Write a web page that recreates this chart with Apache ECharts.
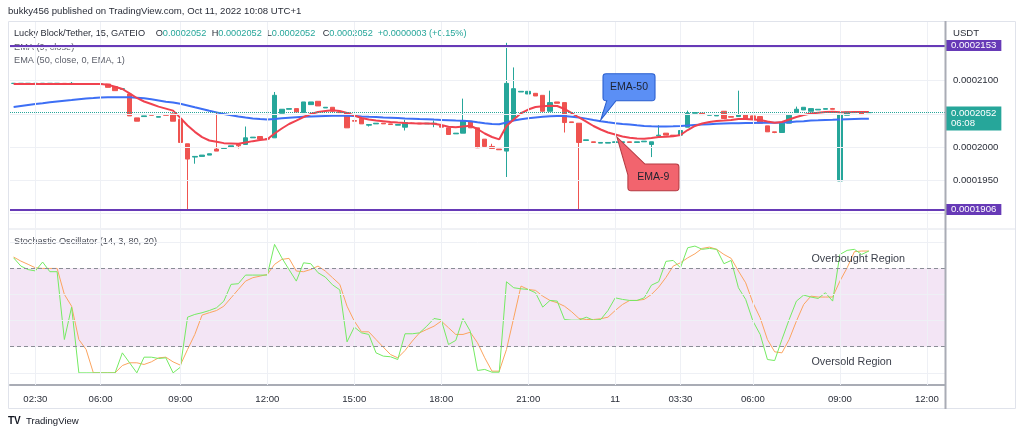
<!DOCTYPE html>
<html><head><meta charset="utf-8">
<script src="https://cdn.jsdelivr.net/npm/echarts@6/dist/echarts.min.js"></script>
<style>html,body{margin:0;padding:0;background:#fff}#c{width:1024px;height:437px}</style>
</head><body><div id="c"></div>
<script>
// prices are in units of 1e-7 USDT
const PRICE_UNIT = 1e-7;
// [open, close, low, high]
const candles = [
[2096,2096,2096,2096],[2096,2096,2096,2096],[2096,2096,2096,2096],[2096,2096,2096,2096],[2096,2096,2096,2096],
[2096,2096,2096,2096],[2096,2096,2096,2096],[2096,2095,2095,2096],[2095,2096,2095,2098],[2095,2095,2095,2095],
[2095,2095,2095,2095],[2095,2095,2095,2095],[2095,2095,2095,2095],[2095,2090,2090,2095],[2091,2085,2085,2091],
[2087,2088,2087,2088],[2080,2047,2047,2080],[2044,2039,2039,2044],[2046,2047,2046,2047],[2049,2048,2048,2049],
[2045,2046,2045,2046],[2049,2048,2048,2049],[2050,2039,2039,2050],[2042,2007,2007,2042],[2005,1982,1906,2005],
[1985,1986,1975,1986],[1986,1988,1986,1988],[1988,1990,1988,1990],[1997,1994,1994,2053],[1998,1999,1998,1999],
[2000,2002,2000,2002],[2004,2002,1998,2004],[2004,2014,2004,2031],[2014,2015,2014,2015],[2016,2012,2012,2016],
[2013,2012,2012,2013],[2014,2078,2014,2083],[2051,2057,2051,2057],[2057,2058,2057,2058],[2058,2053,2053,2058],
[2052,2068,2052,2068],[2064,2068,2064,2068],[2069,2062,2062,2069],[2059,2060,2059,2060],[2060,2054,2054,2060],
[2053,2052,2052,2053],[2052,2029,2029,2052],[2040,2039,2039,2040],[2043,2035,2035,2043],[2033,2034,2031,2034],
[2035,2036,2035,2036],[2036,2035,2035,2036],[2035,2034,2034,2035],[2033,2034,2033,2034],[2030,2037,2025,2041],
[2036,2036,2036,2036],[2036,2035,2035,2036],[2035,2036,2035,2036],[2035,2036,2030,2040],[2032,2030,2014,2032],
[2029,2019,2019,2029],[2020,2021,2020,2021],[2021,2039,2021,2073],[2039,2029,2029,2039],[2029,1999,1999,2029],
[2012,2001,2001,2012],[2001,1998,1998,2005],[1997,1996,1996,1997],[1994,2096,1955,2157],[2041,2088,2041,2120],
[2083,2084,2083,2084],[2080,2084,2080,2084],[2081,2077,2077,2081],[2078,2054,2054,2078],[2054,2067,2054,2085],
[2068,2066,2066,2068],[2067,2037,2022,2067],[2038,2037,2037,2038],[2036,2007,1905,2036],[2010,2011,2010,2011],
[2008,2007,2007,2008],[2006,2007,2006,2007],[2006,2007,2006,2007],[2007,2008,2007,2008],[2007,2008,2007,2008],
[2008,2007,2007,2008],[2007,2008,2007,2008],[2008,2009,2008,2009],[2004,2008,1985,2008],[2017,2018,2017,2033],
[2021,2018,2018,2021],[2018,2017,2017,2018],[2018,2025,2018,2025],[2030,2051,2030,2055],[2051,2052,2051,2052],
[2051,2049,2049,2051],[2048,2049,2048,2049],[2047,2048,2047,2048],[2054,2043,2043,2054],[2046,2045,2045,2046],
[2046,2049,2046,2085],[2049,2042,2042,2049],[2047,2042,2042,2047],[2046,2036,2036,2046],[2032,2023,2023,2032],
[2023,2022,2021,2023],[2022,2036,2022,2036],[2036,2048,2036,2048],[2052,2057,2052,2061],[2056,2060,2056,2060],
[2054,2058,2054,2058],[2056,2057,2056,2057],[2057,2058,2057,2058],[2058,2057,2057,2059],[1949,2049,1949,2049],
[2048,2053,2048,2053],[2052,2053,2052,2053],[2053,2049,2049,2053],[2052,2052,2052,2052]
];
const ema9 = [
2095,2095,2095,2095,2095,2095,2095,2095,2095,2095,2095,2095,2095,2094,2091,2087.5,2081,2074,2068.7,2065,
2061,2058,2055,2044,2032.5,2023,2015,2010,2008,2006,2005.5,2005,2007,2009,2010.7,2011.7,2020.5,2028,2034.8,2040,
2045.3,2049.8,2053,2054.4,2055.4,2054.4,2051.3,2047.6,2043.8,2041.6,2040,2038.9,2037.8,2037,2036.3,2035.8,2035.5,2035.4,2035.2,2033.3,
2030.7,2029.8,2031,2032.2,2027.3,2020.5,2015.2,2011.7,2031.8,2041.6,2051,2056.6,2060.4,2061.6,2062.2,2061.9,2057.4,2051.3,2044.6,2038.5,
2031.8,2026.5,2022,2019,2016,2014.2,2013,2012.6,2013.7,2015.2,2015.7,2016.3,2018.2,2025.7,2031.8,2035.5,2037.8,2039.3,2040,2040.8,
2042.3,2042.3,2041.6,2040.8,2038.5,2036.7,2037.8,2041.6,2045.3,2048.3,2050.6,2051.8,2052.8,2053.3,2052.4,2052.4,2052.9,2052.9,2052.9
];
const ema50 = [
2060.4,2061.9,2063.4,2064.9,2066,2067.5,2068.7,2069.9,2070.9,2072.1,2073.2,2073.9,2074.7,2075,2075.1,2075.1,2075,2074.5,2073.5,2072,
2070.2,2068.2,2067.2,2065.2,2062.6,2059.9,2057.4,2054.7,2052.3,2049.8,2047.9,2046.1,2044.6,2043.2,2042.2,2041.6,2042.3,2043.4,2044.3,2045,
2045.6,2046.1,2046.5,2046.8,2047.1,2047.3,2047.1,2046.7,2046.1,2045.6,2045.2,2044.7,2044.3,2043.8,2043.2,2042.8,2042.3,2041.9,2041.4,2041,
2040.5,2040,2039.6,2038.8,2037.3,2036,2034.8,2034.3,2037,2040,2041.9,2043.4,2044.7,2045.6,2046.4,2046.8,2046.7,2045.9,2044.6,2042.9,
2040.8,2039,2037.5,2036.1,2034.9,2033.9,2032.8,2031.9,2031.3,2030.9,2030.9,2031.3,2031.8,2032.5,2033.3,2033.9,2034.5,2035.1,2035.7,2036,
2036.1,2036.3,2036.4,2036.6,2036.6,2036.7,2037,2037.6,2038.4,2039.1,2039.9,2040.3,2040.8,2041.1,2041.6,2042,2042.3,2042.6,2042.8
];
const stochK = [
88,81.7,79,78,84.8,77.4,77.4,25.5,50.3,0,0,0,0,0,0,15.3,7.7,0,12,12,
11,11.5,0,4.3,42.6,44.7,46,47.7,49.8,54.9,67.7,68.2,74.8,74.8,74.8,74.8,98.3,88,79,70.2,
84.2,83.5,76.6,73.3,67.3,63.5,23.7,35,30.6,29.4,15.3,12.8,12.3,10.2,29.9,29.9,30.6,35.7,41.6,40.6,
21.7,24.8,41.6,31.9,1.8,2.6,0.5,0.5,69.7,65.1,64.3,63.8,61.3,50.3,55.4,54.9,40.8,40.3,40.3,42.6,
40.3,40.8,47.7,57.4,56.2,55.4,55.4,57.4,67.1,69.7,85.3,86,80.4,95.7,97,94.5,95.2,94.5,83.5,86,
65.1,56.2,39.6,29.4,10.2,9.4,25.5,40.8,54.9,59.5,58,56.9,61.3,54.9,90.6,93.7,94.5,90.6,93.2
];
const stochD = [
88.6,85.5,83,80.4,79.9,79.9,79.9,60,51,25.5,17.9,0,0,0,0,5.6,7.7,7.7,6.4,8.4,
11.5,12,8.4,5.9,17.9,29.4,44.2,46,47.7,51,57.4,63.8,70.2,72.8,74,75.3,83,86.8,87.6,77.9,
77.4,79.1,81.7,77.9,72.8,67.7,51,39.6,31.4,31.4,25.5,19.7,14,11.5,17.1,24.3,30.6,33.2,35.7,39.6,
34.5,29.4,29.4,31.1,23,11.5,1.3,1.3,17.9,42.1,66.4,63.8,63.1,58.7,55.4,53.6,51,46.7,41.6,40.8,
40.8,41.4,42.6,47.7,52.3,55.4,55.4,56.2,60,65.6,73,81.7,84.2,88,91.1,95.2,96.2,94.5,90.6,87.6,
77.9,68.9,53.6,42.1,25.5,16.1,15.3,25.5,39.6,52.3,58.7,58,58,58,70.2,80.4,92.7,93.2,93.2
];
const futureSlots = 10;
// bar index at which each time label falls (bars missing in low-volume periods)
const timeTickIdx  = [3, 12, 23, 35, 47, 59, 71, 83, 92, 102, 114, 126];
const timeTickText = ['02:30','06:00','09:00','12:00','15:00','18:00','21:00','11','03:30','06:00','09:00','12:00'];
const priceGridLevels = [1900, 1950, 2000, 2050, 2100, 2150];
const priceLabelLevels = [1950, 2000, 2100];
const resistanceLevel = 2153, supportLevel = 1906, lastPrice = 2052;
const stochGridLevels = [0, 40, 60, 100];
const stochBandLevels = [20, 80];
const stochLabelLevels = [0, 20, 40, 60, 80, 100];
const countdown = '06:08';
const ema50CalloutBar = 81, ema9CalloutBar = 83;
const overboughtLabelAt = [110, 87], oversoldLabelAt = [110, 8.3];

const FONT = "'Liberation Sans', Arial, sans-serif";
const TXT = '#2a2e39';
const GRID_C = '#eef0f5';
const fmtP = v => (v * PRICE_UNIT).toFixed(7);
const nSlots = candles.length + futureSlots;
const cats = Array.from({length: nSlots}, (_, i) => 'b' + i);
const tickText = {};
timeTickIdx.forEach((i, k) => { tickText[cats[i]] = timeTickText[k]; });

const chart = echarts.init(document.getElementById('c'));
const axisLbl = (txt) => ({show: true, position: 'end', distance: 8, formatter: txt, color: TXT, fontSize: 9.6, fontFamily: FONT});
const LEG = 9.2;

const option = {
  animation: false,
  grid: [
    {left: 10, right: 79, top: 22, height: 206, outerBoundsMode: 'none'},
    {left: 10, right: 79, top: 230, height: 155, outerBoundsMode: 'none'}
  ],
  xAxis: [
    {type: 'category', gridIndex: 0, data: cats, boundaryGap: true, show: false},
    {type: 'category', gridIndex: 1, data: cats, boundaryGap: true,
     axisLine: {show: true, onZero: false, lineStyle: {color: '#a9acb5', width: 2}},
     axisTick: {show: false}, splitLine: {show: false},
     axisLabel: {interval: (i) => timeTickIdx.includes(i), formatter: (v) => tickText[v] || '',
                 color: TXT, fontSize: 9.6, fontFamily: FONT, margin: 9}}
  ],
  yAxis: [
    {type: 'value', gridIndex: 0, min: 1878.2, max: 2188.4, show: false},
    {type: 'value', gridIndex: 1, min: -9.3, max: 109.3, show: false}
  ],
  series: [
    {type: 'line', name: 'gridTop', xAxisIndex: 0, yAxisIndex: 0, data: cats.map(() => null), silent: true, z: 0,
     markLine: {silent: true, symbol: ['none', 'none'], animation: false, lineStyle: {color: GRID_C, width: 1, type: 'solid'},
       label: {show: false},
       data: [
         ...timeTickIdx.map(i => ({xAxis: cats[i]})),
         ...priceGridLevels.map(v => ({yAxis: v, label: priceLabelLevels.includes(v) ? axisLbl(fmtP(v)) : {show: false}}))
       ]}},
    {type: 'candlestick', name: 'Lucky Block/Tether', xAxisIndex: 0, yAxisIndex: 0, data: candles, barWidth: 5,
     itemStyle: {color: '#26a69a', color0: '#ef5350', borderColor: '#26a69a', borderColor0: '#ef5350', borderWidth: 1},
     markLine: {silent: true, symbol: ['none', 'none'], animation: false,
       data: [
         {yAxis: resistanceLevel, lineStyle: {color: '#673ab7', width: 2, type: 'solid'},
          label: {position: 'end', distance: 1, formatter: fmtP(resistanceLevel), backgroundColor: '#673ab7', color: '#fff',
                  padding: [1, 5, 0, 5], fontSize: 9.6, fontFamily: FONT}},
         {yAxis: supportLevel, lineStyle: {color: '#673ab7', width: 2, type: 'solid'},
          label: {position: 'end', distance: 1, formatter: fmtP(supportLevel), backgroundColor: '#673ab7', color: '#fff',
                  padding: [1, 5, 0, 5], fontSize: 9.6, fontFamily: FONT}},
         {yAxis: lastPrice, lineStyle: {color: '#26a69a', width: 1, type: 'dotted'},
          label: {position: 'end', distance: 1, formatter: fmtP(lastPrice) + '\n' + countdown, backgroundColor: '#26a69a', color: '#fff',
                  padding: [2, 5, 2, 5], lineHeight: 10, fontSize: 9.6, fontFamily: FONT, offset: [0, 6]}}
       ]}},
    {type: 'line', name: 'EMA 50', xAxisIndex: 0, yAxisIndex: 0, data: ema50, showSymbol: false, symbol: 'none',
     lineStyle: {color: '#3d6ff5', width: 2}, z: 3,
     markPoint: {silent: true, animation: false, data: [{
       coord: [cats[ema50CalloutBar], ema50[ema50CalloutBar]],
       symbol: 'path://M2.3,3 Q2.3,0 5.3,0 L51.3,0 Q54.3,0 54.3,3 L54.3,24 Q54.3,27 51.3,27 L15.3,27 L0,46.3 L6,27 L5.3,27 Q2.3,27 2.3,24 Z',
       symbolSize: [54.3, 46.3], symbolKeepAspect: false, symbolOffset: [27.15, -24.3],
       itemStyle: {color: '#5b8ff5', borderColor: '#2a5fd0', borderWidth: 1},
       label: {show: true, position: 'inside', formatter: 'EMA-50', offset: [1.15, -9.65], color: '#1e2330', fontSize: 10.5, fontFamily: FONT}
     }]}},
    {type: 'line', name: 'EMA 9', xAxisIndex: 0, yAxisIndex: 0, data: ema9, showSymbol: false, symbol: 'none',
     lineStyle: {color: '#f0424f', width: 2}, z: 4,
     markPoint: {silent: true, animation: false, data: [{
       coord: [cats[ema9CalloutBar], ema9[ema9CalloutBar]],
       symbol: 'path://M0,0 L28,27 L59,27 Q62,27 62,30 L62,50.7 Q62,53.7 59,53.7 L14,53.7 Q11,53.7 11,50.7 L11,38 Z',
       symbolSize: [62, 53.7], symbolKeepAspect: false, symbolOffset: [32.7, 29.35],
       itemStyle: {color: '#f2646e', borderColor: '#b53a42', borderWidth: 1},
       label: {show: true, position: 'inside', formatter: 'EMA-9', offset: [5.5, 13.5], color: '#1e2330', fontSize: 10.5, fontFamily: FONT}
     }]}},
    {type: 'line', name: 'gridBottom', xAxisIndex: 1, yAxisIndex: 1, data: cats.map(() => null), silent: true, z: 0,
     markArea: {silent: true, itemStyle: {color: 'rgba(156,39,176,0.12)'}, data: [[{yAxis: stochBandLevels[0]}, {yAxis: stochBandLevels[1]}]]},
     markLine: {silent: true, symbol: ['none', 'none'], animation: false, lineStyle: {color: GRID_C, width: 1, type: 'solid'},
       label: {show: false},
       data: [
         ...timeTickIdx.map(i => ({xAxis: cats[i]})),
         ...stochGridLevels.map(v => ({yAxis: v})),
         ...stochBandLevels.map(v => ({yAxis: v, lineStyle: {color: '#8a8d96', width: 1, type: [4, 3]}})),
         ...stochLabelLevels.map(v => ({yAxis: v, lineStyle: {opacity: 0}, label: axisLbl(v.toFixed(7))}))
       ]}},
    {type: 'line', name: '%K', xAxisIndex: 1, yAxisIndex: 1, data: stochK, showSymbol: false, symbol: 'none',
     lineStyle: {color: '#74ea62', width: 1}, z: 3,
     markPoint: {silent: true, animation: false, symbol: 'circle', symbolSize: 1, itemStyle: {color: 'transparent'},
       label: {show: true, position: 'right', distance: 0, color: '#3b3f4a', fontSize: 10.8, fontFamily: FONT},
       data: [
         {coord: [cats[overboughtLabelAt[0]], overboughtLabelAt[1]], label: {formatter: 'Overbought Region'}},
         {coord: [cats[oversoldLabelAt[0]], oversoldLabelAt[1]], label: {formatter: 'Oversold Region'}}
       ]}},
    {type: 'line', name: '%D', xAxisIndex: 1, yAxisIndex: 1, data: stochD, showSymbol: false, symbol: 'none',
     lineStyle: {color: '#fba45f', width: 1}, z: 2}
  ],
  graphic: [
    {type: 'rect', silent: true, z: -1, shape: {x: 8.5, y: 21.5, width: 1007, height: 387}, style: {fill: 'none', stroke: '#e0e3eb', lineWidth: 1}},
    {type: 'line', silent: true, z: -1, shape: {x1: 8, y1: 229, x2: 1016, y2: 229}, style: {stroke: '#e0e3eb', lineWidth: 1}},
    {type: 'line', silent: true, z: 10, shape: {x1: 945.5, y1: 21, x2: 945.5, y2: 409}, style: {stroke: '#a9acb5', lineWidth: 2}},
    {type: 'text', silent: true, z: 1, x: 8, y: 11, style: {text: 'bukky456 published on TradingView.com, Oct 11, 2022 10:08 UTC+1', fill: '#2a2e39', fontSize: 9.6, fontFamily: FONT, verticalAlign: 'middle'}},
    {type: 'text', silent: true, z: 1, x: 14, y: 33.5, style: {text: 'Lucky Block/Tether, 15, GATEIO', fill: '#2a2e39', fontSize: LEG, fontFamily: FONT, verticalAlign: 'middle'}},
    ...[['O', 155.7, '0.0002052'], ['H', 211.7, '0.0002052'], ['L', 266.7, '0.0002052'], ['C', 322.7, '0.0002052']].map(([k, x, v]) => (
      {type: 'text', silent: true, z: 1, x: x, y: 33.5, style: {text: '{g|' + k + '}{v|' + v + '}', fontSize: LEG, fontFamily: FONT, verticalAlign: 'middle',
        rich: {g: {fill: '#2a2e39', fontSize: LEG, fontFamily: FONT}, v: {fill: '#26a69a', fontSize: LEG, fontFamily: FONT}}}})),
    {type: 'text', silent: true, z: 1, x: 377.7, y: 33.5, style: {text: '+0.0000003 (+0.15%)', fill: '#26a69a', fontSize: LEG, fontFamily: FONT, verticalAlign: 'middle'}},
    {type: 'text', silent: true, z: 1, x: 14, y: 47, style: {text: 'EMA (9, close)', fill: '#5d606b', fontSize: LEG, fontFamily: FONT, verticalAlign: 'middle'}},
    {type: 'text', silent: true, z: 1, x: 14, y: 60.5, style: {text: 'EMA (50, close, 0, EMA, 1)', fill: '#5d606b', fontSize: LEG, fontFamily: FONT, verticalAlign: 'middle'}},
    {type: 'text', silent: true, z: 1, x: 14, y: 241.7, style: {text: 'Stochastic Oscillator (14, 3, 80, 20)', fill: '#4a4d57', fontSize: LEG, fontFamily: FONT, verticalAlign: 'middle'}},
    {type: 'text', silent: true, z: 1, x: 953, y: 33, style: {text: 'USDT', fill: '#2a2e39', fontSize: 9.6, fontFamily: FONT, verticalAlign: 'middle'}},
    {type: 'text', silent: true, z: 1, x: 8, y: 421, style: {text: 'TV', fill: '#131722', fontSize: 10, fontWeight: 'bold', fontFamily: FONT, verticalAlign: 'middle'}},
    {type: 'text', silent: true, z: 1, x: 26, y: 421, style: {text: 'TradingView', fill: '#131722', fontSize: 9.6, fontFamily: FONT, verticalAlign: 'middle'}}
  ]
};
chart.setOption(option);
</script>
</body></html>
